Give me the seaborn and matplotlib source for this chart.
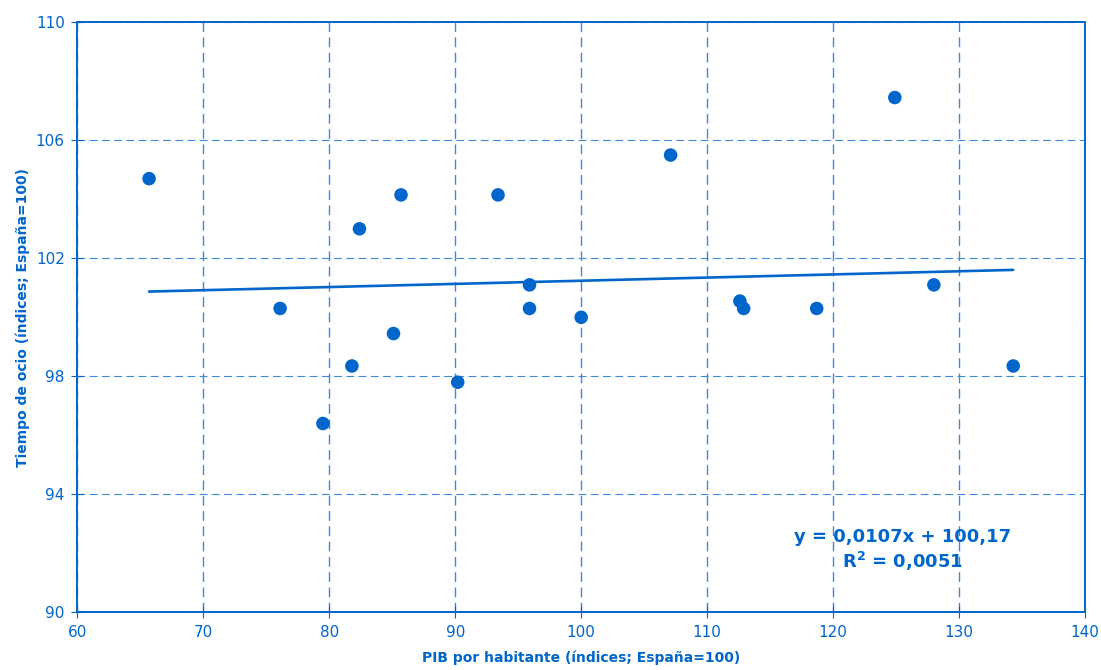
import matplotlib
matplotlib.use("Agg")
import matplotlib.pyplot as plt
import seaborn as sns
import numpy as np
import pandas as pd

# data
pib = [65.7, 76.1, 79.5, 81.8, 82.4, 85.1, 85.7, 90.2, 93.4, 95.9,
       95.9, 100.0, 107.1, 112.6, 112.9, 118.7, 124.9, 128.0, 134.3]
ocio = [104.7, 100.3, 96.4, 98.35, 103.0, 99.45, 104.15, 97.8, 104.15, 101.1,
        100.3, 100.0, 105.5, 100.55, 100.3, 100.3, 107.45, 101.1, 98.35]
slope = 0.0107
intercept = 100.17
x_ticks = [60, 70, 80, 90, 100, 110, 120, 130, 140]
y_ticks = [90, 94, 98, 102, 106, 110]

blue = "#0066CC"
grid_blue = "#3A8AE0"

sns.set_style("white")
plt.rcParams['font.family'] = ['DejaVu Sans']

df = pd.DataFrame({"pib": pib, "ocio": ocio})
trend = pd.DataFrame({"pib": [min(pib), max(pib)]})
trend["ocio"] = slope * trend["pib"] + intercept

fig = plt.figure(figsize=(11.01, 6.70), dpi=100)
ax = fig.add_axes([0.0702, 0.0861, 0.9153, 0.8806])

sns.lineplot(data=trend, x="pib", y="ocio", ax=ax, color=blue, linewidth=1.9)
sns.scatterplot(data=df, x="pib", y="ocio", ax=ax, color=blue, s=95,
                edgecolor="none", zorder=3)

ax.set_xlim(60, 140)
ax.set_ylim(90, 110)
ax.set_xticks(x_ticks)
ax.set_yticks(y_ticks)

ax.set_axisbelow(True)
ax.xaxis.grid(True, color=grid_blue, linestyle=(0, (7, 4)), linewidth=1.0)
ax.yaxis.grid(True, color=grid_blue, linestyle=(0, (7, 4)), linewidth=0.8)

for sp in ax.spines.values():
    sp.set_color(blue)
    sp.set_linewidth(1.4)

ax.tick_params(axis="both", colors=blue, labelcolor=blue, labelsize=11,
               direction="inout", length=8, width=0.8, pad=5,
               bottom=True, left=True)

ax.set_xlabel("PIB por habitante (índices; España=100)", color=blue,
              fontsize=10, fontweight="bold", labelpad=8)
ax.set_ylabel("Tiempo de ocio (índices; España=100)", color=blue,
              fontsize=10, fontweight="bold", labelpad=4)

ax.text(125.5, 92.1, "y = 0,0107x + 100,17\nR$^\\mathbf{2}$ = 0,0051",
        color=blue, fontsize=13, fontweight="bold", ha="center", va="center",
        linespacing=1.2)

fig.savefig("out.png", dpi=100)
